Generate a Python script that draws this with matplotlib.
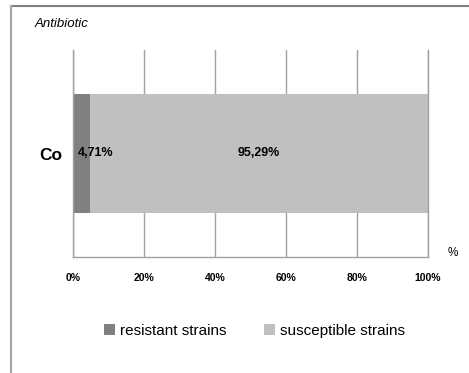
#!/usr/bin/env python
import matplotlib
matplotlib.use("Agg")
import matplotlib.pyplot as plt
from matplotlib.lines import Line2D
from matplotlib.patches import Patch

plt.rcParams['font.family'] = ['Liberation Sans', 'DejaVu Sans']

# --- data ---
antibiotics = ["Co"]
resistant = [4.71]
susceptible = [95.29]
series_names = ["resistant strains", "susceptible strains"]
series_colors = ["#808080", "#c0c0c0"]
x_ticks = [0, 20, 40, 60, 80, 100]
x_tick_labels = ["0%", "20%", "40%", "60%", "80%", "100%"]

W, H = 469, 373
fig = plt.figure(figsize=(W / 100, H / 100), dpi=100)
ax = fig.add_axes([73 / W, 1 - 257 / H, (428 - 73) / W, (257 - 50) / H])

ypos = list(range(len(antibiotics)))
ax.barh(ypos, resistant, height=0.575, color=series_colors[0], zorder=2)
ax.barh(ypos, susceptible, left=resistant, height=0.575, color=series_colors[1], zorder=2)

# value labels
for y, r, s in zip(ypos, resistant, susceptible):
    ax.annotate(f"{r:.2f}%".replace(".", ","), xy=(0, y), xytext=(3.6, 0),
                textcoords="offset points", ha="left", va="center",
                fontsize=9, fontweight="bold", zorder=3)
    ax.text(r + s / 2, y, f"{s:.2f}%".replace(".", ","), ha="center", va="center",
            fontsize=9, fontweight="bold", zorder=3)

ax.set_xlim(0, 100)
ax.set_ylim(-0.5, 0.5)
ax.set_xticks(x_ticks)
ax.set_xticklabels(x_tick_labels, fontsize=7.5, fontweight="bold")
ax.set_yticks(ypos)
ax.set_yticklabels(antibiotics, fontsize=12.5, fontweight="bold")
ax.tick_params(axis="x", length=0, pad=11.5)
ax.tick_params(axis="y", length=0, pad=8)

ax.grid(axis="x", color="#a0a0a0", linewidth=1, zorder=1)
ax.spines["top"].set_visible(False)
for side in ["left", "bottom", "right"]:
    ax.spines[side].set_color("#a0a0a0")
    ax.spines[side].set_linewidth(1)

fig.text(453 / W, 1 - 253 / H, "%", ha="center", va="center", fontsize=8.5)
fig.text(35 / W, 1 - 24 / H, "Antibiotic", ha="left", va="center",
         fontsize=9.5, style="italic")

handles = [Patch(facecolor=c, edgecolor="none") for c in series_colors]
fig.legend(handles, series_names, loc="center", bbox_to_anchor=(254.5 / W, 1 - 331 / H),
           ncol=2, frameon=False, fontsize=11, handlelength=0.7, handleheight=0.7,
           handletextpad=0.3, columnspacing=2.5)

# outer frame
fig.add_artist(Line2D([11 / W, 1], [1 - 6 / H, 1 - 6 / H], color="#808080",
                      linewidth=1.5, transform=fig.transFigure))
fig.add_artist(Line2D([11 / W, 11 / W], [0, 1 - 6 / H], color="#a6a6a6",
                      linewidth=1.5, transform=fig.transFigure))

fig.savefig("out.png", dpi=100)
